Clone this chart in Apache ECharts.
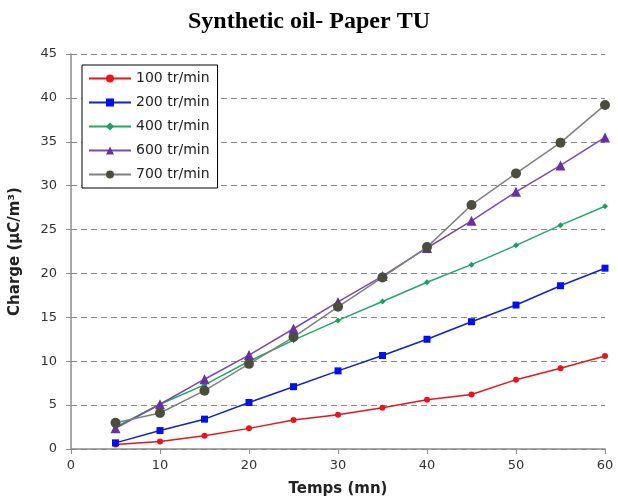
<!DOCTYPE html>
<html><head><meta charset="utf-8">
<script src="https://cdn.jsdelivr.net/npm/echarts@6/dist/echarts.min.js"></script>
<style>html,body{margin:0;padding:0;background:#fff}#c{width:618px;height:503px}</style>
</head><body><div id="c"></div>
<script>
const times = [5, 10, 15, 20, 25, 30, 35, 40, 45, 50, 55, 60];
const s100 = [0.5, 0.85, 1.5, 2.35, 3.3, 3.9, 4.7, 5.6, 6.2, 7.9, 9.2, 10.6];
const s200 = [0.7, 2.1, 3.4, 5.3, 7.1, 8.9, 10.65, 12.5, 14.5, 16.4, 18.6, 20.6];
const s400 = [2.5, 5.1, 7.3, 10.0, 12.4, 14.65, 16.8, 19.0, 21.0, 23.2, 25.5, 27.65];
const s600 = [2.35, 5.1, 7.95, 10.7, 13.7, 16.75, 19.7, 22.9, 26.0, 29.3, 32.3, 35.5];
const s700 = [3.0, 4.1, 6.65, 9.7, 12.75, 16.2, 19.55, 23.0, 27.8, 31.4, 34.9, 39.2];
const seriesNames = ['100 tr/min', '200 tr/min', '400 tr/min', '600 tr/min', '700 tr/min'];

const pair = arr => times.map((t, i) => [t, arr[i]]);
const styles = [
  {line: '#e8141c', mark: '#e8141c', symbol: 'circle', size: 6},
  {line: '#1020d0', mark: '#0010f0', symbol: 'rect', size: 7},
  {line: '#22a868', mark: '#18a060', symbol: 'diamond', size: 6},
  {line: '#7a4ab0', mark: '#6a2ea8', symbol: 'triangle', size: 10},
  {line: '#808080', mark: '#4a4e3c', symbol: 'circle', size: 10}
];
const data = [s100, s200, s400, s600, s700];

const chart = echarts.init(document.getElementById('c'));
chart.setOption({
  animation: false,
  title: {
    text: 'Synthetic oil- Paper TU', left: 'center', top: 5,
    textStyle: {fontFamily: 'Liberation Serif', fontWeight: 'bold', fontSize: 24, color: '#000'}
  },
  grid: {left: 71, right: 13, top: 54, bottom: 54},
  legend: {
    orient: 'vertical', left: 82, top: 65,
    padding: [5, 8, 5, 6], itemGap: 7, itemWidth: 42, itemHeight: 10,
    borderColor: '#000', borderWidth: 1, backgroundColor: '#fff',
    textStyle: {fontFamily: 'DejaVu Sans', fontSize: 14, color: '#222', lineHeight: 17},
    data: seriesNames
  },
  xAxis: {
    type: 'value', min: 0, max: 60, interval: 10,
    name: 'Temps (mn)', nameLocation: 'middle', nameGap: 33,
    nameTextStyle: {fontFamily: 'DejaVu Sans', fontWeight: 'bold', fontSize: 15, color: '#222'},
    axisLine: {show: true, lineStyle: {color: '#8c8c8c', width: 1.5}},
    axisTick: {show: true, length: 5, lineStyle: {color: '#8c8c8c'}},
    axisLabel: {fontFamily: 'DejaVu Sans', fontSize: 13, color: '#333', margin: 10},
    splitLine: {show: false}
  },
  yAxis: {
    type: 'value', min: 0, max: 45, interval: 5,
    name: 'Charge (µC/m³)', nameLocation: 'middle', nameGap: 48,
    nameTextStyle: {fontFamily: 'DejaVu Sans', fontWeight: 'bold', fontSize: 15, color: '#222'},
    axisLine: {show: true, lineStyle: {color: '#8c8c8c', width: 1.5}},
    axisTick: {show: true, length: 5, lineStyle: {color: '#8c8c8c'}},
    axisLabel: {fontFamily: 'DejaVu Sans', fontSize: 13, color: '#333', margin: 14},
    splitLine: {show: true, lineStyle: {color: '#8a8a8a', type: [6, 4], width: 1}}
  },
  series: data.map((d, i) => ({
    name: seriesNames[i], type: 'line', data: pair(d),
    symbol: styles[i].symbol, symbolSize: styles[i].size, showAllSymbol: true,
    lineStyle: {color: styles[i].line, width: 1.5},
    itemStyle: {color: styles[i].mark, borderWidth: 0}
  }))
});
</script></body></html>
